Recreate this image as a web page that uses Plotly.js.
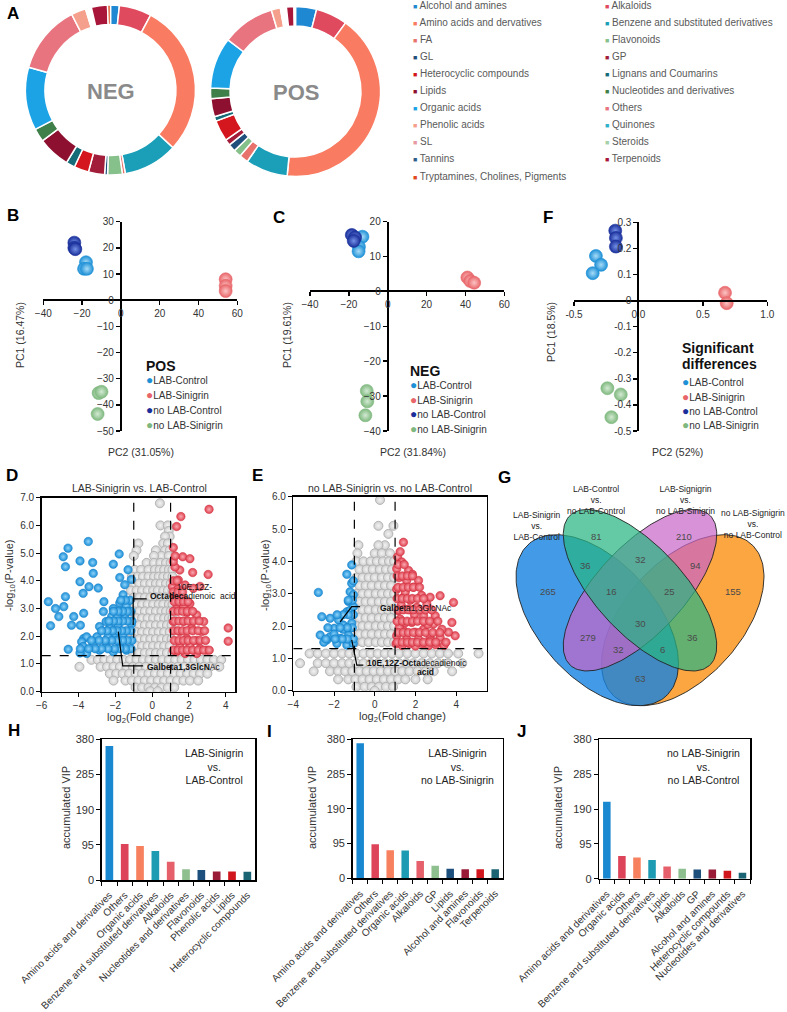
<!DOCTYPE html>
<html><head><meta charset="utf-8">
<script src="https://cdn.plot.ly/plotly-3.0.1.min.js"></script>
<style>html,body{margin:0;padding:0;background:#fff}#chart{width:787px;height:1012px}</style>
</head><body><div id="chart"></div>
<script>
// ================= DATA =================
const donutCategories = ['Alcohol and amines','Alkaloids','Amino acids and dervatives','Benzene and substituted derivatives','FA','Flavonoids','GL','GP','Heterocyclic compounds','Lignans and Coumarins','Lipids','Nucleotides and derivatives','Organic acids','Others','Phenolic acids','Quinones','SL','Steroids','Tannins','Terpenoids','Tryptamines, Cholines, Pigments'];
const negCounts = [6,22,104,37,2,10,2,11,10,6,22,9,43,47,10,1,1,1,1,11,2];
const posCounts = [14,21,145,28,6,5,5,4,14,3,12,7,34,35,6,1,1,1,1,5,1];

const pcaGroups = ['LAB-Control','LAB-Sinigrin','no LAB-Control','no LAB-Sinigrin'];
// panel B (POS)
const posPC2 = [[-18,-19,-17.5],[54,54,54],[-24,-24,-23.5],[-11.5,-10,-12]];
const posPC1 = [[14.5,12,12],[8,5.5,3.5],[22,20,19.5],[-35.5,-35,-43.5]];
// panel C (NEG)
const negPC2 = [[-13,-14.8,-15],[41,42.5,44.5],[-18.5,-16.8,-17.5],[-10.8,-10.5,-11.5]];
const negPC1 = [[15.7,12.8,11.5],[4,3,2.5],[16.2,15.5,14.5],[-28.5,-31.5,-35.5]];
// panel F (significant differences)
const sigPC2 = [[-0.33,-0.29,-0.355],[0.672,0.685],[-0.18,-0.175,-0.175],[-0.241,-0.137,-0.21]];
const sigPC1 = [[0.171,0.137,0.105],[0.03,-0.01],[0.268,0.24,0.207],[-0.336,-0.36,-0.447]];

// panel D volcano: LAB-Sinigrin vs. LAB-Control  [log2FC, -log10 P]
const dDown = [[-5.64,3.25],[-5.52,2.38],[-4.83,4.87],[-4.71,4.51],[-4.57,5.18],[-3.47,5.42],[-3.92,4.72],[-3.92,3.97],[-3.23,4.66],[-3.2,4.27],[-3.43,3.79],[-3.75,3.55],[-2.93,3.74],[-4.71,3.43],[-4.8,3.07],[-5.25,3.0],[-5.07,2.71],[-4.26,2.71],[-3.72,2.83],[-4.38,2.4],[-3.9,2.4],[-3.72,1.92],[-2.62,3.25],[-2.65,2.89],[-2.11,4.6],[-1.79,4.97],[-1.76,4.12],[-2.5,2.53],[-2.86,2.35],[-2.11,3.0],[-2.2,2.71],[-1.76,3.2],[-1.58,3.5],[-1.49,3.86],[-1.31,4.4],[-1.13,4.05],[-1.49,2.77],[-1.13,2.44],[-1.85,2.4],[-1.58,2.05],[-2.03,2.1],[-2.4,1.98],[-3.0,1.98],[-3.56,1.98],[-3.83,1.8],[-4.56,1.53],[-3.75,1.63],[-3.56,1.38],[-3.2,1.68],[-2.86,1.5],[-2.5,1.63],[-2.11,1.44],[-1.76,1.63],[-1.4,1.5],[-3.92,1.4],[-1.6,2.9],[-1.9,2.7],[-2.3,2.3],[-1.4,3.1]];
const dDownDense = [[3.3,[-1.2,-1.45,-1.7]],[2.9,[-1.15,-1.35,-1.6,-1.85,-2.1]],[2.55,[-1.1,-1.35,-1.6,-1.85,-2.1,-2.35]],[2.2,[-1.15,-1.4,-1.65,-1.9,-2.15,-2.45,-2.75]],[1.85,[-1.1,-1.35,-1.6,-1.9,-2.2,-2.55,-2.9,-3.3]],[1.55,[-1.15,-1.45,-1.75,-2.05,-2.4,-2.75,-3.1,-3.45,-3.9]]];
const dUp = [[3.09,6.58],[1.56,6.32],[1.33,5.96],[1.15,5.2],[1.66,4.87],[2.05,4.8],[1.5,4.39],[3.04,4.23],[2.2,4.3],[1.42,4.03],[1.79,3.85],[2.24,3.73],[2.6,3.8],[1.6,3.42],[2.05,3.18],[1.33,3.0],[1.88,2.86],[2.42,2.77],[2.8,2.53],[1.7,2.53],[2.15,2.29],[2.69,2.17],[4.13,2.3],[4.13,1.82],[1.5,2.17],[1.88,1.92],[2.42,1.85],[1.15,2.53],[1.24,3.42],[1.24,4.5],[1.5,1.63],[2.05,1.68],[2.6,1.56],[2.96,1.5],[1.79,1.38],[2.42,1.38],[1.33,1.44],[1.1,3.8],[1.15,4.7],[1.4,3.7],[1.7,3.1],[1.25,4.9]];
const dUpDense = [[4.0,[1.15,1.35]],[3.6,[1.15,1.4,1.65]],[3.25,[1.2,1.45,1.7,1.95]],[2.9,[1.15,1.4,1.65,1.9,2.2]],[2.55,[1.2,1.45,1.7,1.95,2.25,2.55]],[2.2,[1.15,1.4,1.65,1.9,2.2,2.5,2.85]],[1.85,[1.2,1.45,1.7,1.95,2.25,2.6,2.9]],[1.5,[1.15,1.4,1.65,1.9,2.2,2.5,2.8,3.1]]];
const dNsRows = [[6.8,[0.42]],[6.0,[0.45,0.85]],[5.8,[0.9]],[5.6,[0.95,0.7]],[5.35,[0.6,-0.75,0.85]],[5.1,[0.7,0.2,-0.85,0.95]],[4.9,[0.5,0.9,-1.0,0.1]],[4.65,[-0.3,0.1,0.45,0.75,1.0]],[4.4,[-0.95,-0.6,-0.2,0.15,0.4,0.65,0.9,1.1]],[4.15,[-1.1,-0.8,-0.5,-0.2,0.1,0.35,0.6,0.85,1.1]],[3.9,[-1.0,-0.7,-0.4,-0.1,0.2,0.45,0.75,1.0]],[3.65,[-1.15,-0.85,-0.55,-0.25,0.05,0.3,0.6,0.85,1.1]],[3.4,[-1.0,-0.7,-0.4,-0.1,0.2,0.45,0.75,1.0]],[3.15,[-1.15,-0.85,-0.55,-0.25,0.05,0.35,0.6,0.9,1.1]],[2.9,[-1.0,-0.7,-0.4,-0.1,0.2,0.5,0.75,1.0]],[2.65,[-1.15,-0.85,-0.55,-0.25,0.05,0.35,0.65,0.9,1.1]],[2.4,[-1.0,-0.7,-0.4,-0.1,0.2,0.5,0.8,1.05]],[2.15,[-1.15,-0.85,-0.55,-0.25,0.05,0.35,0.65,0.95]],[1.9,[-1.0,-0.7,-0.4,-0.1,0.2,0.5,0.8,1.05]],[1.65,[-1.2,-0.85,-0.55,-0.25,0.05,0.35,0.65,0.95]],[1.4,[-1.05,-0.7,-0.4,-0.1,0.2,0.5,0.8,1.1]],[1.15,[-3.3,-2.95,-2.6,-2.25,-1.9,-1.55,-1.2,-0.85,-0.5,-0.15,0.2,0.55,0.9,1.25,1.6,1.95,2.3,2.65,3.0,3.35,3.75]],[0.9,[-3.95,-2.8,-2.45,-2.1,-1.75,-1.4,-1.05,-0.7,-0.35,0.0,0.35,0.7,1.05,1.4,1.75,2.1,2.45,2.8,3.15,3.65]],[0.65,[-2.3,-1.95,-1.6,-1.25,-0.9,-0.55,-0.2,0.15,0.5,0.85,1.2,1.55,1.9,2.25,2.6,3.0]],[0.4,[-2.1,-1.45,-1.1,-0.75,-0.4,-0.05,0.3,0.65,1.0,1.35,1.7,2.05,2.5]],[0.15,[-0.9,-0.55,-0.2,0.15,0.5,0.85,1.2]],[0.02,[-0.1,0.3]]];

// panel E volcano: no LAB-Sinigrin vs. no LAB-Control
const eDown = [[-2.77,3.04],[-1.13,3.89],[-1.37,3.6],[-1.13,3.32],[-1.21,3.06],[-1.29,2.76],[-1.05,2.97],[-2.6,2.29],[-2.19,2.24],[-1.78,2.19],[-1.37,2.44],[-1.21,2.49],[-1.99,1.93],[-1.54,2.03],[-1.13,2.09],[-2.68,1.72],[-2.19,1.67],[-1.69,1.62],[-1.29,1.72],[-1.13,1.57],[-2.35,1.57],[-1.86,1.46],[-1.37,1.41],[-1.05,1.46],[-2.5,1.5],[-1.05,2.6],[-1.55,1.9],[-2.0,1.75]];
const eDownDense = [[3.4,[-1.05]],[2.8,[-1.1,-1.3]],[2.35,[-1.05,-1.3,-1.55,-1.85]],[1.95,[-1.1,-1.35,-1.7,-2.3]],[1.6,[-1.05,-1.35,-1.6,-1.95,-2.4]]];
const eUp = [[1.41,4.59],[1.12,4.14],[1.33,3.98],[1.66,3.72],[1.08,3.77],[1.57,3.41],[2.15,3.41],[1.9,3.2],[1.08,3.14],[1.41,2.89],[2.72,2.89],[3.21,2.94],[3.87,2.73],[2.56,2.68],[2.07,2.58],[1.66,2.53],[1.16,2.47],[1.25,2.22],[1.82,2.11],[2.4,2.32],[2.97,2.32],[2.89,2.06],[3.79,2.11],[3.95,1.7],[3.62,1.81],[2.4,1.9],[1.99,1.81],[1.41,1.86],[1.08,1.7],[1.57,1.6],[2.15,1.6],[2.72,1.65],[3.21,1.65],[1.05,1.45],[1.35,1.4],[1.7,1.45],[2.0,1.38],[2.35,1.45],[2.65,1.4],[3.0,1.42],[3.4,1.4],[1.2,3.5],[1.5,3.05],[1.75,2.8],[1.3,2.65],[2.3,2.95],[1.95,2.35],[1.5,2.1],[2.6,2.05],[1.2,1.95],[3.3,1.9],[2.75,1.55],[1.85,3.6],[1.25,4.3]];
const eUpDense = [[3.9,[1.15,1.45]],[3.55,[1.1,1.35,1.6,1.85]],[3.2,[1.15,1.4,1.65,1.9,2.2]],[2.85,[1.1,1.35,1.6,1.85,2.1,2.4]],[2.5,[1.15,1.4,1.65,1.9,2.2,2.5,2.8]],[2.15,[1.1,1.35,1.6,1.85,2.1,2.4,2.7,3.1]],[1.8,[1.15,1.4,1.65,1.9,2.2,2.5,2.85,3.2]],[1.5,[1.1,1.35,1.6,1.85,2.1,2.4,2.7,3.0,3.5]]];
const eNsRows = [[5.9,[0.26]],[5.1,[0.18,0.92]],[4.85,[0.67]],[4.5,[0.5,0.18,-0.8]],[4.25,[-0.85,0.0,0.35,0.75]],[4.0,[-0.9,-0.55,-0.2,0.1,0.4,0.7,0.95]],[3.75,[-0.75,-0.4,-0.1,0.25,0.55,0.85]],[3.5,[-0.9,-0.6,-0.3,0.0,0.35,0.65,0.95]],[3.25,[-0.75,-0.45,-0.15,0.2,0.5,0.8]],[3.0,[-0.9,-0.6,-0.3,0.05,0.35,0.65,0.95]],[2.75,[-0.75,-0.45,-0.15,0.2,0.5,0.8]],[2.5,[-0.9,-0.6,-0.3,0.05,0.35,0.65,0.95]],[2.25,[-0.75,-0.45,-0.15,0.2,0.5,0.8]],[2.0,[-0.9,-0.6,-0.3,0.05,0.35,0.65,0.95]],[1.75,[-0.75,-0.45,-0.15,0.2,0.5,0.8]],[1.5,[-0.95,-0.6,-0.3,0.05,0.35,0.65,0.95]],[1.15,[-3.2,-2.8,-2.4,-2.0,-1.6,-1.25,-0.9,-0.55,-0.2,0.15,0.5,0.85,1.2,1.6,2.0,2.4,2.8,3.2,3.6,4.1,5.1]],[0.85,[-3.67,-2.8,-2.4,-2.0,-1.6,-1.25,-0.9,-0.55,-0.2,0.15,0.5,0.85,1.2,1.55,1.9,2.3,2.7,3.1,3.6,4.3]],[0.6,[-3.0,-2.2,-1.8,-1.45,-1.1,-0.75,-0.4,-0.05,0.3,0.65,1.0,1.35,1.7,2.1,2.5,2.9,3.8]],[0.35,[-1.8,-1.3,-0.95,-0.6,-0.25,0.1,0.45,0.8,1.15,1.5,2.0,2.6]],[0.12,[-0.9,-0.5,-0.15,0.2,0.55,0.9]],[0.0,[0.0]]];

// panel G Venn
const vennSetNames = ['LAB-Sinigrin<br>vs.<br>LAB-Control','LAB-Control<br>vs.<br>no LAB-Control','LAB-Signigrin<br>vs.<br>no LAB-Sinigrin','no LAB-Signigrin<br>vs.<br>no LAB-Control'];
const vennCounts = [265,81,210,155,36,32,94,16,25,30,279,36,32,6,63];

// panels H, I, J (accumulated VIP)
const hCats = ['Amino acids and derivatives','Others','Organic acids','Benzene and substituted derivatives','Alkaloids','Nucleotides and derivatives','Flavonoids','Phenolic acids','Lipids','Heterocyclic compounds'];
const hVIP = [362,97,92,78,49,29,27,23,23,22];
const iCats = ['Amino acids and derivatives','Others','Benzene and substituted derivatives','Organic acids','Alkaloids','GP','Lipids','Alcohol and amines','Flavonoids','Terpenoids'];
const iVIP = [369,93,77,76,47,34,26,25,25,25];
const jCats = ['Amino acids and derivatives','Organic acids','Others','Benzene and substituted derivatives','Lipids','Alkaloids','GP','Alcohol and amines','Heterocyclic compounds','Nucleotides and derivatives'];
const jVIP = [210,62,58,51,33,27,25,25,22,16];

// ================= STYLE / LAYOUT =================
const FONT = 'Liberation Sans, Arial, sans-serif';
const W = 787, H = 1012;
const PX = v => v / W, PY = v => 1 - v / H;
const domX = (a, b) => [PX(a), PX(b)];
const domY = (top, bottom) => [PY(bottom), PY(top)];
const zeroPos = (d, r) => d[0] + (0 - r[0]) / (r[1] - r[0]) * (d[1] - d[0]);
const fromRows = rows => rows.flatMap(([y, xs]) => xs.map(x => [x, y]));

const donutColors = ['#1f88d2','#e04a5f','#f97c62','#1b9fb8','#e8736c','#86c08a','#1f4f7a','#a21d3a','#d4161e','#156b78','#8e1030','#3f7f4a','#1ba3e6','#e87480','#f5a08c','#2fb1c9','#e89aa3','#a5d0a8','#2e5f8a','#a8163a','#e04a1e'];
const grpBase = ['#1e90d6','#e8666a','#1a2f9a','#7fb87f'];
const grpHi = ['#a8dcf8','#fcc4c4','#7390e6','#d3ead3'];
const barColors = ['#1a88d0','#dd4459','#f7805f','#1c9bb3','#e5606a','#8ebf8e','#1d4f7d','#9a1b38','#d0151c','#1a6474'];

const traces = [];
const annotations = [];
const shapes = [];

function ann(text, x, y, o) {
  o = o || {};
  const f = Object.assign({family: FONT, size: 10, color: '#333'}, o.font || {});
  const a = Object.assign({text: text, x: PX(x), y: PY(y), xref: 'paper', yref: 'paper', showarrow: false,
    xanchor: 'center', yanchor: 'middle'}, o);
  a.font = f;
  annotations.push(a);
}

// ---- A: donuts ----
[[negCounts, 110.5, 90, 'NEG'], [posCounts, 295.5, 91.5, 'POS']].forEach(([vals, cx, cy, lab]) => {
  traces.push({type: 'pie', labels: donutCategories, values: vals, hole: 0.77, sort: false,
    direction: 'clockwise', rotation: 0, textinfo: 'none', hoverinfo: 'none', showlegend: false,
    marker: {colors: donutColors, line: {color: '#ffffff', width: 1.5}},
    domain: {x: domX(cx - 85, cx + 85), y: domY(cy - 85, cy + 85)}});
  ann('<b>' + lab + '</b>', cx, cy + 1, {font: {size: 22, color: '#8a8a8a'}});
});
donutCategories.forEach((c, i) => {
  const col = i % 2, row = Math.floor(i / 2);
  ann("<span style='color:" + donutColors[i] + ";font-size:7px'>■</span> " + c,
      col === 0 ? 411 : 603, 5.5 + row * 17.05, {xanchor: 'left', font: {size: 10, color: '#595959'}});
});

// ---- B, C, F: PCA score plots ----
const pcaPanels = [
  {xs: posPC2, ys: posPC1, ax: '', dx: domX(43.3, 237.3), dy: domY(221.7, 431), rx: [-40, 60], ry: [-50, 30], dtx: 20, dty: 10},
  {xs: negPC2, ys: negPC1, ax: '2', dx: domX(310, 504.3), dy: domY(221.7, 431), rx: [-40, 60], ry: [-40, 20], dtx: 20, dty: 10},
  {xs: sigPC2, ys: sigPC1, ax: '3', dx: domX(574, 767.3), dy: domY(222.3, 431), rx: [-0.5, 1.0], ry: [-0.5, 0.3], dtx: 0.5, dty: 0.1}
];
const layout = {width: W, height: H, margin: {l: 0, r: 0, t: 0, b: 0}, paper_bgcolor: '#fff', plot_bgcolor: 'rgba(0,0,0,0)',
  showlegend: false, font: {family: FONT, size: 10, color: '#333'}, hovermode: false};

pcaPanels.forEach(p => {
  p.xs.forEach((xv, g) => {
    traces.push({type: 'scatter', mode: 'markers', x: xv, y: p.ys[g], xaxis: 'x' + p.ax, yaxis: 'y' + p.ax, name: pcaGroups[g],
      marker: {size: 13, color: grpBase[g], gradient: {type: 'radial', color: grpHi[g]}, line: {width: 0.6, color: grpBase[g]}}});
  });
  const common = {showline: true, linecolor: '#000', linewidth: 2, ticks: 'outside', ticklen: 4, tickwidth: 1.5, tickcolor: '#000',
    showgrid: false, zeroline: false, tickfont: {family: FONT, size: 10, color: '#333'}, anchor: 'free', fixedrange: true};
  const xa = Object.assign({}, common, {domain: p.dx, range: p.rx, dtick: p.dtx, tick0: 0, position: zeroPos(p.dy, p.ry)});
  const ya = Object.assign({}, common, {domain: p.dy, range: p.ry, dtick: p.dty, tick0: 0, position: zeroPos(p.dx, p.rx)});
  if (p.ax === '3') {
    xa.tickvals = [-0.5, 0, 0.5, 1.0]; xa.ticktext = ['-0.5', '0.0', '0.5', '1.0'];
    ya.tickvals = [-0.5, -0.4, -0.3, -0.2, -0.1, 0, 0.1, 0.2, 0.3]; ya.ticktext = ['-0.5', '-0.4', '-0.3', '-0.2', '-0.1', '0', '0.1', '0.2', '0.3'];
  }
  layout['xaxis' + p.ax] = xa;
  layout['yaxis' + p.ax] = ya;
});
// PCA titles & legends
ann('PC2 (31.05%)', 141, 452, {font: {size: 10.5}});
ann('PC1 (16.47%)', 20, 335, {textangle: -90, font: {size: 10.5}});
ann('PC2 (31.84%)', 413, 452, {font: {size: 10.5}});
ann('PC1 (19.61%)', 287, 335, {textangle: -90, font: {size: 10.5}});
ann('PC2 (52%)', 677, 452, {font: {size: 10.5}});
ann('PC1 (18.5%)', 551, 332, {textangle: -90, font: {size: 10.5}});
function pcaLegend(titleLines, x, ty, iy) {
  titleLines.forEach((t, k) => ann('<b>' + t + '</b>', x - 1, ty + k * 16, {xanchor: 'left', font: {size: 14, color: '#111'}}));
  pcaGroups.forEach((g, i) => ann("<span style='color:" + grpBase[i] + ";font-size:12px'>●</span>" + g, x - 1, iy[i], {xanchor: 'left', font: {size: 10, color: '#333'}}));
}
pcaLegend(['POS'], 145, 366, [380, 395, 410, 425]);
pcaLegend(['NEG'], 409, 371, [385, 399.5, 414, 428.5]);
pcaLegend(['Significant', 'differences'], 681, 348, [382, 396.5, 411, 425.5]);

// ---- D, E: volcano plots ----
const volcPanels = [
  {ns: fromRows(dNsRows), dn: dDown.concat(fromRows(dDownDense)), up: dUp.concat(fromRows(dUpDense)), ax: '4', dx: domX(41.7, 235), dy: domY(497.7, 691.7), rx: [-6, 4.5], ry: [0, 7]},
  {ns: fromRows(eNsRows), dn: eDown.concat(fromRows(eDownDense)), up: eUp.concat(fromRows(eUpDense)), ax: '5', dx: domX(293.3, 486.7), dy: domY(496.7, 690.7), rx: [-4, 5.5], ry: [0, 6]}
];
volcPanels.forEach(p => {
  const xr = 'x' + p.ax, yr = 'y' + p.ax;
  traces.push({type: 'scatter', mode: 'markers', x: p.ns.map(d => d[0]), y: p.ns.map(d => d[1]), xaxis: xr, yaxis: yr,
    marker: {size: 9, color: '#cfcfcf', gradient: {type: 'radial', color: '#f3f3f3'}, line: {color: '#b4b4b4', width: 1}}});
  traces.push({type: 'scatter', mode: 'markers', x: p.dn.map(d => d[0]), y: p.dn.map(d => d[1]), xaxis: xr, yaxis: yr,
    marker: {size: 8.5, color: '#1a8fd8', gradient: {type: 'radial', color: '#8fd2f8'}, line: {color: '#1a7fc4', width: 0.5}}});
  traces.push({type: 'scatter', mode: 'markers', x: p.up.map(d => d[0]), y: p.up.map(d => d[1]), xaxis: xr, yaxis: yr,
    marker: {size: 8.5, color: '#e0404e', gradient: {type: 'radial', color: '#f8aab2'}, line: {color: '#cc3040', width: 0.5}}});
  const ax = {showline: true, mirror: true, linecolor: '#000', linewidth: 1.5, ticks: 'outside', ticklen: 4, tickcolor: '#000',
    showgrid: false, zeroline: false, tickfont: {family: FONT, size: 10, color: '#333'}, fixedrange: true};
  layout['xaxis' + p.ax] = Object.assign({}, ax, {domain: p.dx, range: p.rx, dtick: 2, tick0: 0, anchor: yr});
  layout['yaxis' + p.ax] = Object.assign({}, ax, {domain: p.dy, range: p.ry, dtick: 1, tick0: 0, tickformat: '.1f', anchor: xr});
  const dash = {type: 'line', xref: xr, yref: yr, line: {color: '#000', width: 1.2, dash: 'dash'}};
  shapes.push(Object.assign({}, dash, {x0: -1, x1: -1, y0: 0, y1: p.ry[1]}));
  shapes.push(Object.assign({}, dash, {x0: 1, x1: 1, y0: 0, y1: p.ry[1]}));
  shapes.push(Object.assign({}, dash, {x0: p.rx[0], x1: p.rx[1], y0: 1.3, y1: 1.3}));
});
function leader(xr, yr, pts) {
  shapes.push({type: 'path', xref: xr, yref: yr, line: {color: '#000', width: 1.2},
    path: 'M' + pts.map(q => q[0] + ',' + q[1]).join(' L')});
}
leader('x4', 'y4', [[-1.03, 2.41], [-1.03, 3.35], [-0.3, 3.35]]);
leader('x4', 'y4', [[-1.84, 2.17], [-1.6, 0.93], [-0.49, 0.93]]);
leader('x5', 'y5', [[-1.70, 2.13], [-1.13, 2.6], [-0.72, 2.6]]);
leader('x5', 'y5', [[-1.13, 1.57], [-0.88, 0.79], [-0.56, 0.79]]);
ann('LAB-Sinigrin vs. LAB-Control', 139, 488, {font: {size: 10.5}});
ann('no LAB-Sinigrin vs. no LAB-Control', 390, 488, {font: {size: 10.5}});
ann('10E,12Z-', 175, 587, {xanchor: 'left', font: {size: 8.5, color: '#111'}});
ann('<b>Octadeca</b>dienoic  acid', 148, 596, {xanchor: 'left', font: {size: 8.5, color: '#111'}});
ann('<b>Galbeta1,3GlcN</b>Ac', 145, 667, {xanchor: 'left', font: {size: 8.5, color: '#111'}});
ann('<b>Galbe</b>ta1,3GlcNAc', 378, 608, {xanchor: 'left', font: {size: 8.5, color: '#111'}});
ann('<b>10E,12Z-Octa</b>decadienoic', 365, 663, {xanchor: 'left', font: {size: 8.5, color: '#111'}});
ann('<b>acid</b>', 425, 672, {font: {size: 8.5, color: '#111'}});
ann('log<sub>2</sub>(Fold change)', 150, 718, {font: {size: 11}});
ann('log<sub>2</sub>(Fold change)', 402, 717, {font: {size: 11}});
ann('-log<sub>10</sub>(P-value)', 10, 575, {textangle: -90, font: {size: 11}});
ann('-log<sub>10</sub>(P-value)', 266, 575, {textangle: -90, font: {size: 11}});

// ---- G: Venn ----
const vennEllipses = [ // unit-space ellipses; drawing order: orange, blue, purple, green
  {c: [0.65, 0.47], a: 0.35, b: 0.20, ang: 45, fill: 'rgba(250,150,30,0.85)'},
  {c: [0.35, 0.47], a: 0.35, b: 0.20, ang: -45, fill: 'rgba(20,130,225,0.8)'},
  {c: [0.50, 0.57], a: 0.35, b: 0.15, ang: 45, fill: 'rgba(200,100,200,0.7)'},
  {c: [0.50, 0.57], a: 0.35, b: 0.15, ang: -45, fill: 'rgba(40,180,130,0.72)'}
];
vennEllipses.forEach(e => {
  const xs = [], ys = [], th = e.ang * Math.PI / 180;
  for (let k = 0; k <= 180; k++) {
    const t = 2 * Math.PI * k / 180, u = e.a * Math.cos(t), v = e.b * Math.sin(t);
    xs.push(e.c[0] + u * Math.cos(th) - v * Math.sin(th));
    ys.push(e.c[1] + u * Math.sin(th) + v * Math.cos(th));
  }
  traces.push({type: 'scatter', mode: 'lines', x: xs, y: ys, xaxis: 'x6', yaxis: 'y6', fill: 'toself', fillcolor: e.fill,
    line: {color: '#222', width: 0.9}});
});
layout.xaxis6 = {domain: [497.5 / W, 782.5 / W], range: [0, 1], visible: false, fixedrange: true, anchor: 'y6'};
layout.yaxis6 = {domain: [PY(761.2), PY(461.2)], range: [0, 1], visible: false, fixedrange: true, anchor: 'x6'};
const vennCountPos = [[0.178,0.565],[0.348,0.748],[0.655,0.748],[0.827,0.565],[0.309,0.654],[0.502,0.671],[0.693,0.654],[0.401,0.565],[0.602,0.565],[0.5,0.46],[0.319,0.412],[0.685,0.412],[0.426,0.371],[0.578,0.371],[0.502,0.276]];
vennCounts.forEach((n, i) => annotations.push({text: String(n), x: vennCountPos[i][0], y: vennCountPos[i][1], xref: 'x6', yref: 'y6',
  showarrow: false, font: {family: FONT, size: 9.5, color: '#4a4a4a'}}));
const vennNamePos = [[537, 526], [595.7, 500], [685.7, 500], [753, 524]];
vennSetNames.forEach((t, i) => ann(t, vennNamePos[i][0], vennNamePos[i][1], {font: {size: 8.5, color: '#222'}}));

// ---- H, I, J: bar charts ----
const barPanels = [
  {cats: hCats, vals: hVIP, ax: '7', dx: domX(101.7, 255), dy: domY(739.3, 880), txt: 'LAB-Sinigrin<br>vs.<br>LAB-Control', tx: 214, ty: 766, yt: 66},
  {cats: iCats, vals: iVIP, ax: '8', dx: domX(352.7, 502.7), dy: domY(739.3, 878.3), txt: 'LAB-Sinigrin<br>vs.<br>no LAB-Sinigrin', tx: 457, ty: 766, yt: 312},
  {cats: jCats, vals: jVIP, ax: '9', dx: domX(599.3, 750), dy: domY(739.3, 878.7), txt: 'no LAB-Sinigrin<br>vs.<br>no LAB-Control', tx: 703, ty: 766, yt: 558}
];
barPanels.forEach(p => {
  traces.push({type: 'bar', x: p.cats, y: p.vals, xaxis: 'x' + p.ax, yaxis: 'y' + p.ax, marker: {color: barColors, line: {width: 0}}});
  const ax = {showline: true, mirror: true, linecolor: '#000', linewidth: 1.5, ticks: 'outside', ticklen: 4, tickcolor: '#000',
    showgrid: false, zeroline: false, fixedrange: true, tickfont: {family: FONT, size: 11, color: '#333'}};
  layout['xaxis' + p.ax] = Object.assign({}, ax, {domain: p.dx, anchor: 'y' + p.ax, tickangle: -45, tickson: 'boundaries', type: 'category',
    ticklabelstandoff: 4, tickfont: {family: FONT, size: 10, color: '#333'}});
  layout['yaxis' + p.ax] = Object.assign({}, ax, {domain: p.dy, anchor: 'x' + p.ax, range: [0, 380], tickvals: [0, 95, 190, 285, 380]});
  ann(p.txt, p.tx, p.ty, {font: {size: 10.5, color: '#222'}});
  ann('accumulated VIP', p.yt, 808, {textangle: -90, font: {size: 11}});
});
layout.bargap = 0.5;

// ---- panel letters ----
[['A', 13, 13], ['B', 13, 215], ['C', 279, 218], ['F', 548, 218], ['D', 12, 476], ['E', 257, 476], ['G', 504, 477],
 ['H', 14, 730], ['I', 269, 731], ['J', 521, 731]].forEach(([t, x, y]) => ann('<b>' + t + '</b>', x, y, {font: {size: 17, color: '#000'}}));

layout.annotations = annotations;
layout.shapes = shapes;
Plotly.newPlot('chart', traces, layout, {staticPlot: true, displayModeBar: false});
</script>
</body></html>
